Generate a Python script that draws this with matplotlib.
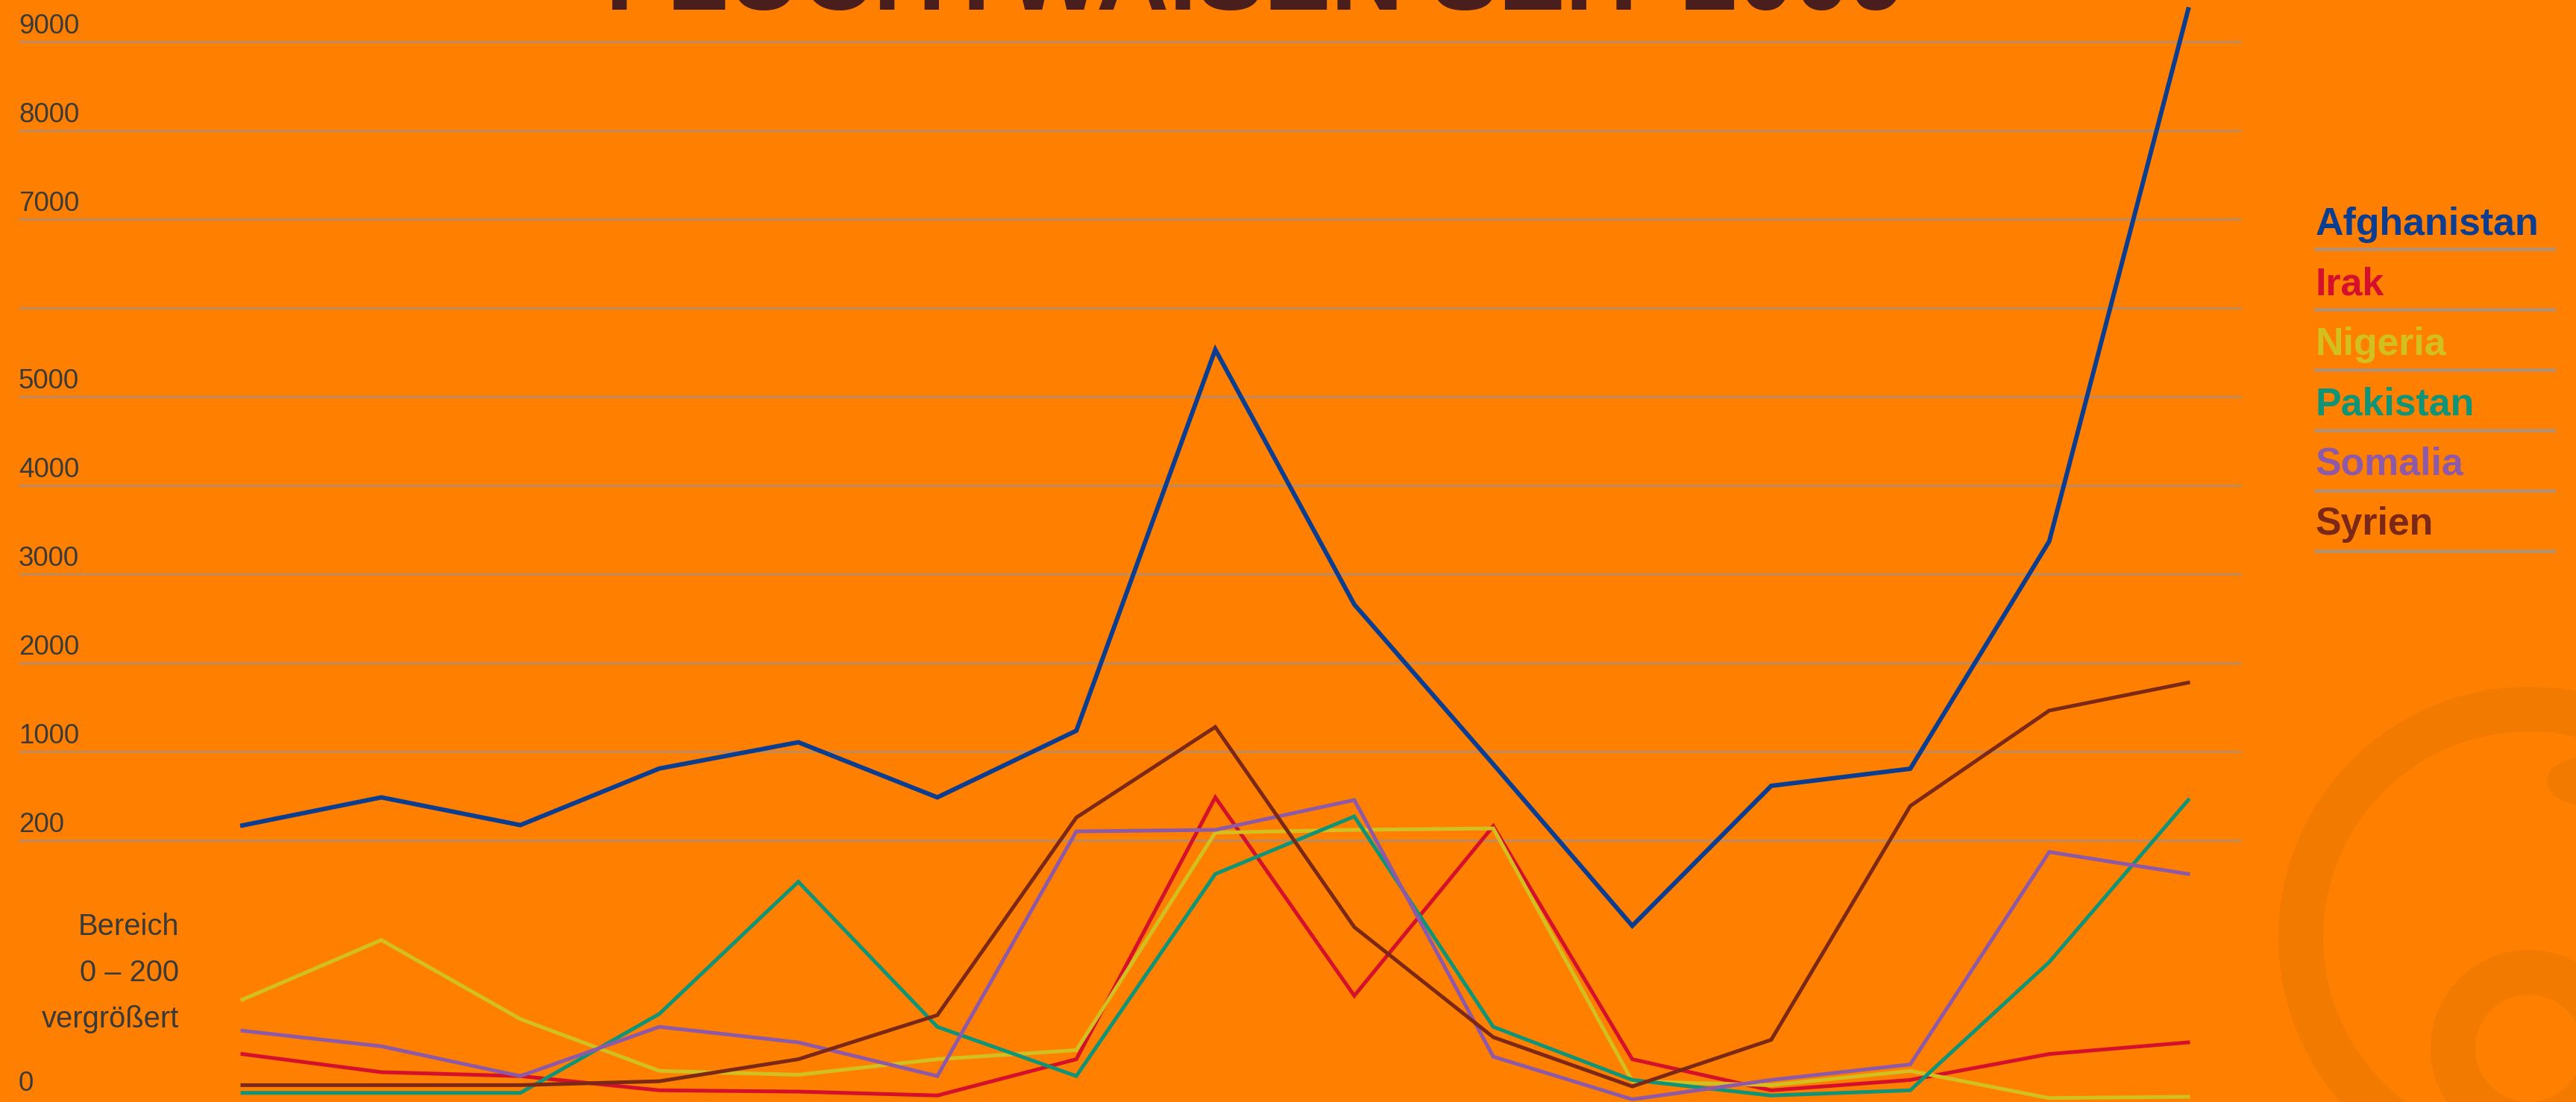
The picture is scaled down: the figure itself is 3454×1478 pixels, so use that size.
import numpy as np
import matplotlib
matplotlib.use("Agg")
import matplotlib.pyplot as plt
from matplotlib import transforms
from matplotlib.patches import Wedge, Ellipse
from matplotlib.lines import Line2D

# ---------------- data ----------------
countries = ["Afghanistan", "Irak", "Nigeria", "Pakistan", "Somalia", "Syrien"]
periods = list(range(15))
afghanistan = [334, 587, 337, 847, 1105, 587, 1235, 5530, 2658, 886, 134, 691, 845, 3370, 9365]
irak        = [35, 21, 18, 7, 6, 3, 31, 587, 80, 328, 31, 7, 15, 35, 44]
nigeria     = [77, 123, 62, 22, 19, 31, 38, 269, 294, 307, 14, 11, 22, 1, 2]
pakistan    = [5, 5, 5, 66, 168, 56, 18, 174, 415, 56, 15, 3, 7, 106, 563]
somalia     = [53, 41, 18, 56, 44, 18, 280, 294, 563, 33, 0, 15, 27, 191, 174]
syrien      = [11, 11, 11, 14, 31, 65, 405, 1277, 133, 48, 10, 46, 509, 1462, 1777]
series = [afghanistan, irak, nigeria, pakistan, somalia, syrien]
colors = ["#0b3d91", "#d4102c", "#d2c020", "#0f9478", "#8e5aa8", "#7b2817"]

tick_values = [9000, 8000, 7000, 5000, 4000, 3000, 2000, 1000, 200, 0]
tick_labels = ["9000", "8000", "7000", "5000", "4000", "3000", "2000", "1000", "200", "0"]
grid_values = [9000, 8000, 7000, 6000, 5000, 4000, 3000, 2000, 1000, 200]
title = "FLUCHTWAISEN SEIT 2009"
zoom_note = ["Bereich", "0 – 200", "vergrößert"]

# broken axis: 0-200 magnified, 200..9000 in equal 1000-steps
SCALE_VALS = [-200, 0, 200, 1000, 2000, 3000, 4000, 5000, 6000, 7000, 8000, 9000, 20000]
SCALE_POS = [-5.84, -2.92, 0, 1, 2, 3, 4, 5, 6, 7, 8, 9, 20]

def fwd(v):
    return np.interp(v, SCALE_VALS, SCALE_POS)

def inv(p):
    return np.interp(p, SCALE_POS, SCALE_VALS)

# ---------------- figure ----------------
W, H = 3454, 1478
BG = "#ff8000"
FONT = ["Liberation Sans", "DejaVu Sans"]
fig = plt.figure(figsize=(W / 100, H / 100), dpi=100, facecolor=BG)
renderer = fig.canvas.get_renderer()

def fit_size(txt, target_px, **kw):
    t = fig.text(0, 0, txt, fontsize=50, family=FONT, **kw)
    w = t.get_window_extent(renderer).width
    t.remove()
    return 50 * target_px / w

# watermark (logo rings) in pixel coordinates
wm = fig.add_axes([0, 0, 1, 1], zorder=0)
wm.set_xlim(0, W)
wm.set_ylim(H, 0)
wm.set_axis_off()
wmc = "#f27a00"
wm.add_patch(Wedge((3391, 1257), 336, 0, 360, width=60, color=wmc, lw=0))
wm.add_patch(Wedge((3391, 1406), 132, 0, 360, width=60, color=wmc, lw=0))
wm.add_patch(Ellipse((3470, 1048), 110, 66, color=wmc, lw=0))

ax = fig.add_axes([0, 0, 1, 1], zorder=1)
ax.patch.set_alpha(0)
ax.set_yscale("function", functions=(fwd, inv))
x0px, dxpx = 325, 186.36
ax.set_xlim(-x0px / dxpx, (W - x0px) / dxpx)
ax.set_ylim(inv((1127 - H) / 119), inv(1127 / 119))
ax.set_axis_off()

# grid lines
gx0 = (25 - x0px) / dxpx
gx1 = (3005 - x0px) / dxpx
ax.hlines(grid_values, gx0, gx1, colors="#c28a58", linewidth=2.4, zorder=1)

# tick labels
tick_fs = fit_size("9000", 82)
lab_tr = transforms.offset_copy(ax.transData, fig=fig, x=0, y=11, units="dots")
for v, s in zip(tick_values, tick_labels):
    ax.text(gx0, v, s, transform=lab_tr, ha="left", va="baseline",
            fontsize=tick_fs, color="#3a3a3a", family=FONT, zorder=3)

# zoom note
note_fs = fit_size("vergrößert", 184)
for k, s in enumerate(zoom_note):
    fig.text(240 / W, 1 - (1243 + 62 * k) / H, s, ha="right", va="center",
             fontsize=note_fs, color="#3a3a3a", family=FONT)

# data lines
for vals, c in zip(series, colors):
    lw = 4.3 if c == colors[0] else 3.6
    ax.plot(periods, vals, color=c, linewidth=lw, solid_joinstyle="miter", zorder=4)

# legend (text with separator lines)
leg_fs = fit_size("Afghanistan", 300, fontweight="bold")
for k, (name, c) in enumerate(zip(countries, colors)):
    yb = 315 + 80.4 * k
    fig.text(3105 / W, 1 - yb / H, name, ha="left", va="baseline", fontsize=leg_fs,
             fontweight="bold", color=c, family=FONT)
    ys = 1 - (334 + 81 * k) / H
    fig.add_artist(Line2D([3105 / W, 3424 / W], [ys, ys], color="#b8906c",
                          linewidth=3.5, transform=fig.transFigure))

# title (cut at the top edge)
title_fs = fit_size(title, 1744, fontweight="bold")
fig.text(1684 / W, 1 - 13 / H, title, ha="center", va="baseline",
         fontsize=title_fs, fontweight="bold", color="#4b1e1e", family=FONT)

fig.savefig("out.png", dpi=100, facecolor=BG)
